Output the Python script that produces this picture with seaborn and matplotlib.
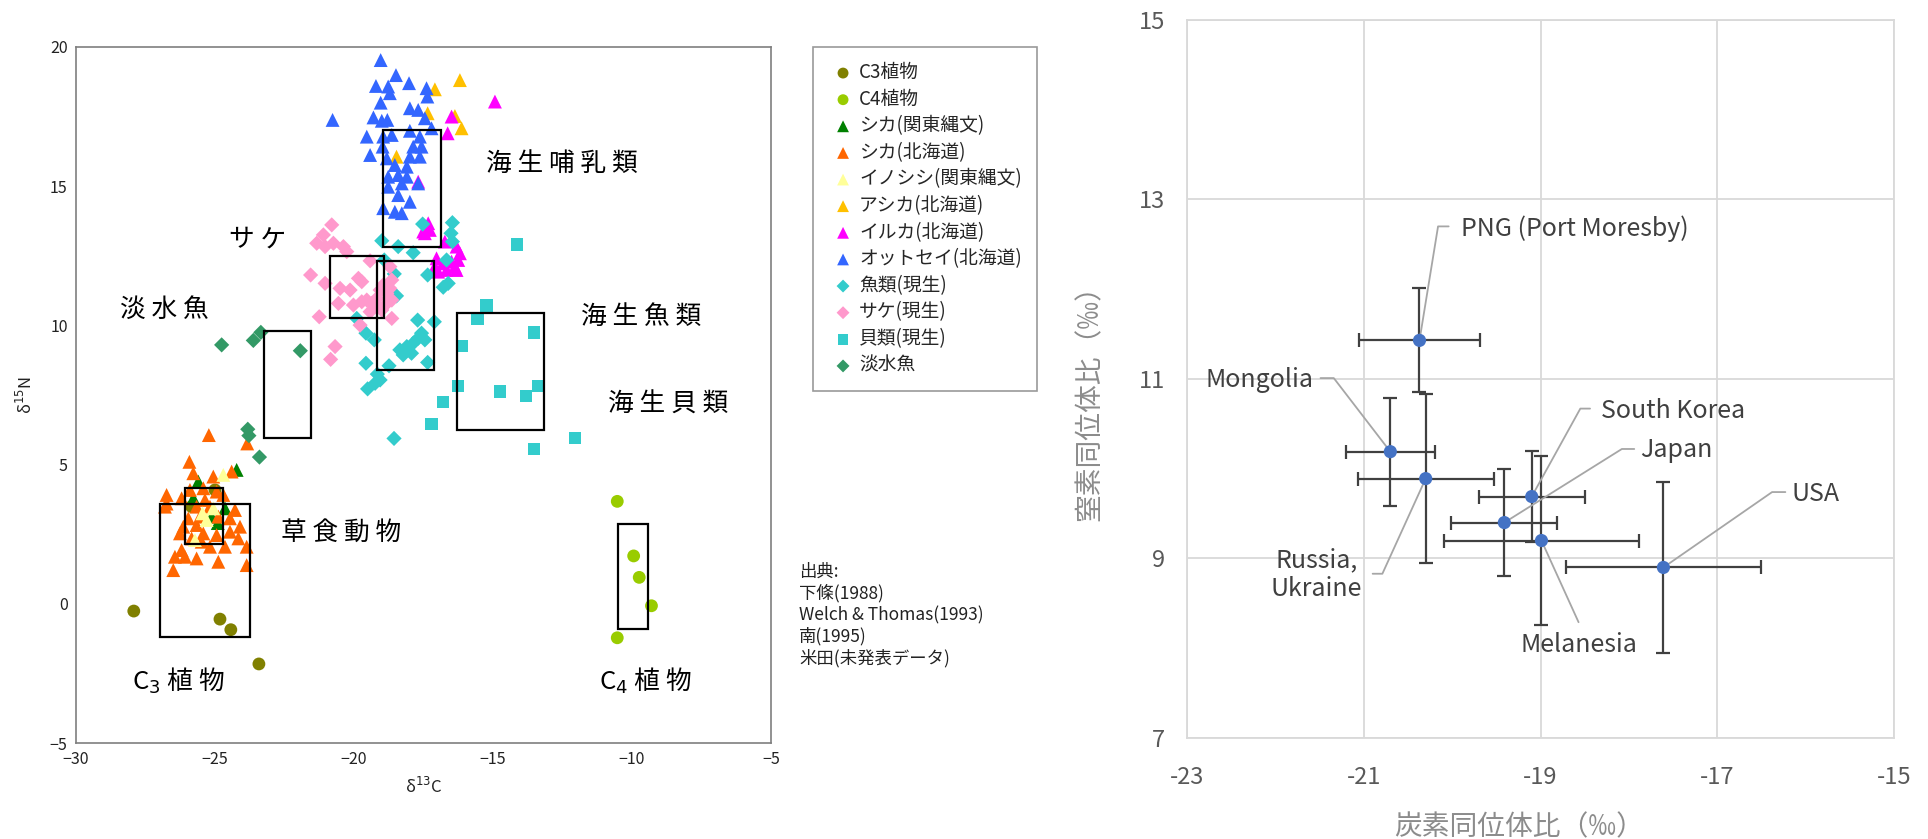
import matplotlib
matplotlib.use("Agg")
import matplotlib.pyplot as plt
from matplotlib.patches import Rectangle
import pandas as pd
import seaborn as sns

sns.set_theme(style="white")
plt.rcParams["font.family"] = ["Noto Sans CJK JP", "DejaVu Sans"]
plt.rcParams["mathtext.fontset"] = "dejavusans"

# ---------------- left panel: δ13C / δ15N of food groups ----------------
c3_x = [-27.92, -24.82, -24.43, -23.42, -25.00, -25.84]
c3_y = [-0.26, -0.55, -0.93, -2.16, 4.09, 3.49]

c4_x = [-10.53, -9.94, -9.74, -9.30, -10.53]
c4_y = [3.68, 1.72, 0.95, -0.07, -1.22]

sika_kanto_x = [-24.22, -25.60, -25.78, -24.64, -25.12, -24.90]
sika_kanto_y = [4.81, 4.39, 3.79, 3.43, 3.13, 2.90]

sika_hok_x = [-25.22, -23.84, -25.92, -25.78, -25.06, -24.40, -25.42, -25.90, -26.74, -26.20,
              -25.36, -24.94, -26.80, -25.66, -25.18, -24.70, -24.28, -25.96, -25.54, -24.88,
              -24.46, -24.10, -26.14, -25.66, -25.42, -26.26, -25.84, -25.48, -24.94, -24.46,
              -24.16, -25.18, -24.64, -23.86, -26.44, -26.08, -25.66, -24.88, -26.50, -23.86,
              -26.20, -26.74]
sika_hok_y = [6.06, 5.76, 5.10, 4.69, 4.57, 4.75, 4.15, 4.09, 3.91, 3.79,
              3.73, 4.03, 3.49, 3.49, 3.49, 3.91, 3.37, 3.07, 3.13, 3.13,
              3.07, 2.77, 2.77, 2.83, 2.53, 2.53, 2.35, 2.23, 2.47, 2.59,
              2.35, 2.05, 2.05, 2.05, 1.69, 1.69, 1.63, 1.51, 1.21, 1.39,
              1.93, 3.60]

boar_x = [-24.70, -25.06, -25.30, -25.72, -25.45]
boar_y = [4.63, 3.43, 3.01, 2.29, 3.25]

sealion_x = [-16.19, -17.09, -16.13, -16.37, -17.35, -18.47]
sealion_y = [18.81, 18.48, 17.08, 17.52, 17.62, 16.06]

dolphin_x = [-14.93, -16.49, -16.63, -17.69, -17.51, -17.33, -17.27, -17.45, -17.03, -16.79,
             -16.97, -16.31, -16.19, -16.37, -16.49, -16.25, -16.73, -17.09, -16.67, -16.31]
dolphin_y = [18.04, 17.50, 16.90, 15.16, 13.37, 13.67, 13.43, 13.31, 12.41, 12.23,
             11.93, 12.83, 12.59, 12.11, 12.29, 12.35, 13.01, 12.11, 11.99, 11.99]

furseal_x = [-19.04, -18.49, -19.21, -18.77, -18.02, -18.71, -17.39, -17.36, -19.04, -17.99,
             -17.69, -19.30, -19.00, -18.80, -17.45, -17.21, -19.54, -18.95, -18.64, -17.99,
             -17.63, -18.97, -17.87, -17.57, -19.42, -18.82, -17.99, -17.63, -18.53, -18.10,
             -18.77, -18.41, -18.10, -18.77, -18.28, -17.69, -18.41, -17.99, -18.95, -18.53,
             -18.28, -20.77]
furseal_y = [19.53, 18.99, 18.60, 18.58, 18.70, 18.34, 18.52, 18.22, 18.00, 17.80,
             17.74, 17.47, 17.35, 17.38, 17.44, 17.08, 16.78, 16.78, 16.84, 16.99,
             16.78, 16.42, 16.42, 16.42, 16.12, 16.00, 16.06, 16.06, 15.76, 15.70,
             15.34, 15.40, 15.34, 14.98, 15.10, 15.10, 14.68, 14.44, 14.21, 14.08,
             14.03, 17.38]

fish_x = [-17.53, -16.46, -16.51, -16.46, -19.00, -18.41, -17.87, -18.91, -18.55, -17.35,
          -16.67, -16.79, -16.61, -18.47, -17.11, -17.71, -19.90, -19.57, -19.27, -18.35,
          -18.10, -17.87, -17.69, -17.57, -17.45, -18.23, -17.93, -17.35, -18.74, -19.57,
          -19.16, -19.06, -19.24, -19.51, -18.56]
fish_y = [13.64, 13.69, 13.31, 13.01, 13.04, 12.83, 12.61, 12.35, 11.85, 11.81,
          12.35, 11.37, 11.51, 11.06, 10.13, 10.19, 10.25, 9.72, 9.48, 9.12,
          9.24, 9.36, 9.54, 9.72, 9.48, 8.94, 9.00, 8.67, 8.55, 8.64,
          8.25, 8.04, 7.92, 7.72, 5.94]

salmon_x = [-20.80, -21.10, -21.34, -21.04, -20.74, -20.38, -20.26, -21.56, -21.04, -19.42,
            -19.84, -19.72, -20.50, -20.14, -20.56, -20.02, -19.72, -19.54, -19.36, -19.18,
            -19.06, -18.95, -18.82, -18.71, -18.64, -19.13, -18.88, -19.42, -19.00, -21.25,
            -18.64, -19.78, -20.68, -20.84, -18.64, -18.71]
salmon_y = [13.61, 13.25, 12.95, 12.83, 12.95, 12.83, 12.65, 11.81, 11.51, 12.32,
            11.69, 11.57, 11.33, 11.27, 10.79, 10.73, 10.85, 10.91, 10.79, 10.97,
            11.27, 11.45, 11.15, 11.33, 10.91, 10.67, 10.73, 10.49, 10.55, 10.31,
            10.25, 10.01, 9.24, 8.78, 11.63, 12.11]

shell_x = [-14.14, -15.24, -15.55, -13.53, -16.12, -16.25, -14.74, -13.82, -13.36, -16.80,
           -17.21, -12.06, -13.53]
shell_y = [12.91, 10.71, 10.25, 9.75, 9.25, 7.83, 7.62, 7.46, 7.83, 7.25,
           6.46, 5.96, 5.56]

fresh_x = [-24.76, -23.62, -23.35, -21.93, -23.82, -23.78, -23.40]
fresh_y = [9.30, 9.46, 9.75, 9.09, 6.27, 6.04, 5.27]

groups = ["C3植物", "C4植物", "シカ(関東縄文)", "シカ(北海道)", "イノシシ(関東縄文)",
          "アシカ(北海道)", "イルカ(北海道)", "オットセイ(北海道)", "魚類(現生)",
          "サケ(現生)", "貝類(現生)", "淡水魚"]
group_x = [c3_x, c4_x, sika_kanto_x, sika_hok_x, boar_x, sealion_x, dolphin_x,
           furseal_x, fish_x, salmon_x, shell_x, fresh_x]
group_y = [c3_y, c4_y, sika_kanto_y, sika_hok_y, boar_y, sealion_y, dolphin_y,
           furseal_y, fish_y, salmon_y, shell_y, fresh_y]
group_colors = ["#808000", "#99cc00", "#008000", "#ff6600", "#ffff99", "#ffc000",
                "#ff00ff", "#3366ff", "#33cccc", "#ff99cc", "#33cccc", "#339966"]
group_markers = ["o", "o", "^", "^", "^", "^", "^", "^", "D", "D", "s", "D"]
group_sizes = [85, 85, 100, 100, 100, 100, 100, 100, 60, 60, 80, 60]

# range boxes for each food group
box_x0 = [-26.97, -26.08, -23.24, -20.85, -18.95, -19.17, -16.30, -10.51]
box_x1 = [-23.73, -24.71, -21.54, -18.92, -16.86, -17.13, -13.18, -9.43]
box_y0 = [-1.18, 2.14, 5.96, 10.26, 12.82, 8.40, 6.25, -0.89]
box_y1 = [3.58, 4.16, 9.80, 12.49, 17.02, 12.30, 10.44, 2.85]

region_names = ["海 生 哺 乳 類", "サ ケ", "淡 水 魚", "海 生 魚 類", "海 生 貝 類",
                "草 食 動 物", "C$_3$ 植 物", "C$_4$ 植 物"]
region_x = [-15.24, -24.5, -28.4, -11.84, -10.88, -22.63, -27.98, -11.2]
region_y = [15.8, 13.1, 10.55, 10.3, 7.15, 2.55, -2.75, -2.75]

sources = ["出典:", "下條(1988)", "Welch & Thomas(1993)", "南(1995)", "米田(未発表データ)"]

# ---------------- right panel: national means with SD ----------------
countries = ["PNG (Port Moresby)", "Mongolia", "Russia,\nUkraine", "South Korea",
             "Japan", "Melanesia", "USA"]
mean_c = [-20.37, -20.70, -20.30, -19.10, -19.41, -18.99, -17.61]
mean_n = [11.43, 10.19, 9.89, 9.69, 9.40, 9.20, 8.90]
sd_c = [0.68, 0.50, 0.77, 0.60, 0.60, 1.10, 1.10]
sd_n = [0.58, 0.60, 0.94, 0.51, 0.60, 0.94, 0.95]

# label anchors and leader-line elbows
label_x = [-19.90, -21.57, -21.02, -18.32, -17.87, -18.57, -16.16]
label_y = [12.67, 10.99, 8.82, 10.64, 10.21, 8.18, 9.72]
label_ha = ["left", "right", "right", "left", "left", "center", "left"]
label_va = ["center", "center", "center", "center", "center", "top", "center"]
elbow_x = [-20.16, -21.34, -20.79, -18.55, -18.08, -18.57, -16.38]
elbow_y = [12.70, 11.01, 8.83, 10.67, 10.22, 8.29, 9.74]
stub_x = [-20.04, -21.49, -20.90, -18.44, -17.94, -18.57, -16.23]

x_ticks_r = [-23, -21, -19, -17, -15]
y_ticks_r = [7, 9, 11, 13, 15]

# ======================================================================
fig = plt.figure(figsize=(19.28, 8.39), dpi=100)
fig.patch.set_facecolor("white")

axL = fig.add_axes([0.0394, 0.1144, 0.3605, 0.8296])
for name, xs, ys, col, mk, sz in zip(groups, group_x, group_y, group_colors,
                                     group_markers, group_sizes):
    df = pd.DataFrame({"d13C": xs, "d15N": ys})
    sns.scatterplot(data=df, x="d13C", y="d15N", ax=axL, color=col, marker=mk,
                    s=sz, edgecolor="none", linewidth=0, label=name, zorder=2)

for x0, x1, y0, y1 in zip(box_x0, box_x1, box_y0, box_y1):
    axL.add_patch(Rectangle((x0, y0), x1 - x0, y1 - y0, fill=False,
                            edgecolor="black", linewidth=1.6, zorder=3))

for name, tx, ty in zip(region_names, region_x, region_y):
    axL.text(tx, ty, name, fontsize=18.5, ha="left", va="center", color="black")

axL.set_xlim(-30, -5)
axL.set_ylim(-5, 20)
axL.set_xticks([-30, -25, -20, -15, -10, -5])
axL.set_yticks([-5, 0, 5, 10, 15, 20])
axL.set_xticklabels(["\u221230", "\u221225", "\u221220", "\u221215", "\u221210", "\u22125"])
axL.set_yticklabels(["\u22125", "0", "5", "10", "15", "20"])
axL.tick_params(axis="both", labelsize=11.5, colors="#222222", length=0, pad=6)
axL.set_xlabel("δ$^{13}$C", fontsize=12, color="#222222", labelpad=6)
axL.set_ylabel("δ$^{15}$N", fontsize=12, color="#222222", labelpad=10)
for sp in axL.spines.values():
    sp.set_color("#7f7f7f")
    sp.set_linewidth(1.2)

leg = axL.legend(loc="upper left", bbox_to_anchor=(0.4217, 0.944),
                 bbox_transform=fig.transFigure, frameon=True, fancybox=False,
                 edgecolor="#808080", fontsize=13.5, labelspacing=0.3,
                 handletextpad=0.05, handlelength=1.6, borderpad=0.8,
                 markerscale=0.85, borderaxespad=0)
leg.get_frame().set_linewidth(1.2)

fig.text(0.4145, 1 - 563 / 839, "\n".join(sources), fontsize=12.5, va="top",
         ha="left", linespacing=1.22, color="#222222")

# ---------------- right panel ----------------
axR = fig.add_axes([0.6157, 0.1204, 0.3667, 0.8558])
axR.errorbar(mean_c, mean_n, xerr=sd_c, yerr=sd_n, fmt="none",
             ecolor="#404040", elinewidth=1.6, capsize=5, capthick=1.6, zorder=2)
dfR = pd.DataFrame({"c": mean_c, "n": mean_n})
sns.scatterplot(data=dfR, x="c", y="n", ax=axR, color="#4472c4", s=90,
                edgecolor="none", zorder=4)

for px, py, ex, ey, sx, lx, ly, txt, ha, va in zip(mean_c, mean_n, elbow_x, elbow_y,
                                                    stub_x, label_x, label_y, countries,
                                                    label_ha, label_va):
    axR.plot([px, ex, sx], [py, ey, ey], color="#a6a6a6", linewidth=1.3, zorder=3)
    axR.text(lx, ly, txt, fontsize=18, ha=ha, va=va, color="#404040",
             multialignment="center", linespacing=1.1)

axR.set_xlim(-23, -15)
axR.set_ylim(7, 15)
axR.set_xticks(x_ticks_r)
axR.set_yticks(y_ticks_r)
axR.set_xticklabels([f"{v:d}" for v in x_ticks_r])
axR.set_yticklabels([f"{v:d}" for v in y_ticks_r])
axR.grid(True, color="#d9d9d9", linewidth=1.3)
axR.set_axisbelow(True)
axR.tick_params(axis="both", labelsize=17, colors="#595959", length=0)
axR.tick_params(axis="y", pad=16)
axR.tick_params(axis="x", pad=20)
axR.set_xlabel("炭素同位体比（‰）", fontsize=20, color="#8c8c8c")
axR.set_ylabel("窒素同位体比（‰）", fontsize=20, color="#8c8c8c")
axR.xaxis.set_label_coords(0.47, -0.104)
axR.yaxis.set_label_coords(-0.117, 0.476)
for sp in axR.spines.values():
    sp.set_color("#d9d9d9")
    sp.set_linewidth(1.3)

fig.savefig("out.png", dpi=100, facecolor="white")
